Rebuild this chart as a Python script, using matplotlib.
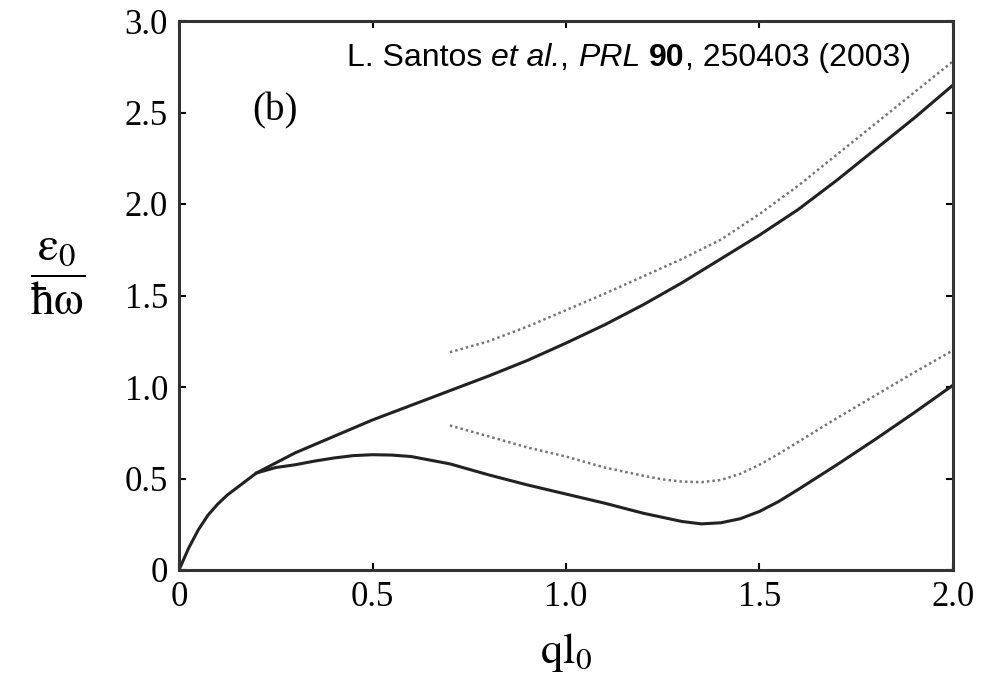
import matplotlib
matplotlib.use("Agg")
import matplotlib.pyplot as plt

plt.rcParams['mathtext.fontset'] = 'stix'

# 上支（实线）
q_upper = [0, 0.025, 0.05, 0.075, 0.1, 0.125, 0.15, 0.175, 0.2, 0.3, 0.4, 0.5, 0.6, 0.7, 0.8, 0.9,
           1.0, 1.1, 1.2, 1.3, 1.4, 1.5, 1.6, 1.7, 1.8, 1.9, 2.0]
e_upper = [0, 0.12, 0.22, 0.30, 0.36, 0.41, 0.45, 0.49, 0.53, 0.64, 0.73, 0.82, 0.90, 0.98, 1.06, 1.145,
           1.24, 1.34, 1.45, 1.57, 1.70, 1.83, 1.97, 2.13, 2.30, 2.47, 2.65]

# 下支（实线）
q_lower = [0.2, 0.25, 0.3, 0.35, 0.4, 0.45, 0.5, 0.55, 0.6, 0.7, 0.75, 0.8, 0.9,
           1.0, 1.1, 1.2, 1.3, 1.35, 1.4, 1.45, 1.5, 1.55, 1.6, 1.7, 1.8, 1.9, 2.0]
e_lower = [0.53, 0.56, 0.575, 0.595, 0.612, 0.625, 0.63, 0.628, 0.62, 0.58, 0.55, 0.52, 0.465,
           0.415, 0.365, 0.31, 0.265, 0.252, 0.258, 0.28, 0.32, 0.375, 0.44, 0.575, 0.715, 0.86, 1.01]

# 虚线（近似）
q_dot_up = [0.7, 0.8, 0.9, 1.0, 1.1, 1.2, 1.3, 1.4, 1.5, 1.6, 1.7, 1.8, 1.9, 2.0]
e_dot_up = [1.19, 1.25, 1.33, 1.42, 1.51, 1.605, 1.70, 1.805, 1.945, 2.10, 2.27, 2.44, 2.61, 2.78]
q_dot_low = [0.7, 0.8, 0.9, 1.0, 1.1, 1.2, 1.25, 1.3, 1.35, 1.4, 1.45, 1.5, 1.55, 1.6, 1.7, 1.8, 1.9, 2.0]
e_dot_low = [0.79, 0.73, 0.67, 0.62, 0.56, 0.515, 0.495, 0.483, 0.48, 0.492, 0.525, 0.575, 0.635, 0.70,
             0.83, 0.955, 1.08, 1.20]

xticks = [0, 0.5, 1.0, 1.5, 2.0]
xticklabels = ['0', '0.5', '1.0', '1.5', '2.0']
yticks = [0, 0.5, 1.0, 1.5, 2.0, 2.5, 3.0]
yticklabels = ['0', '0.5', '1.0', '1.5', '2.0', '2.5', '3.0']

fig = plt.figure(figsize=(10.02, 6.79), dpi=100)
ax = fig.add_axes([179 / 1002, 109 / 679, 774 / 1002, 549 / 679])

ax.plot(q_upper, e_upper, color='#222222', lw=2.2)
ax.plot(q_lower, e_lower, color='#222222', lw=2.2)
ax.plot(q_dot_up, e_dot_up, color='#777777', lw=1.8, linestyle=(0, (1, 1.2)))
ax.plot(q_dot_low, e_dot_low, color='#777777', lw=1.8, linestyle=(0, (1, 1.2)))

ax.set_xlim(0, 2.0)
ax.set_ylim(0, 3.0)
ax.set_xticks(xticks)
ax.set_xticklabels(xticklabels)
ax.set_yticks(yticks)
ax.set_yticklabels(yticklabels)
ax.tick_params(direction='in', length=5, width=1.5, top=True, right=True,
               labelsize=25, pad=8)
for lab in ax.get_xticklabels() + ax.get_yticklabels():
    lab.set_family('Liberation Serif')
for s in ax.spines.values():
    s.set_linewidth(2.2)
    s.set_color('#333333')

ax.text(0.248, 2.51, '(b)', fontsize=28, family='Liberation Serif', ha='center', va='center')

# 引用文字，分段拼接（斜体、粗体）
pieces = [('L. Santos ', 'normal', 'normal'), ('et al.', 'italic', 'normal'),
          (', ', 'normal', 'normal'), ('PRL', 'italic', 'normal'), (' ', 'normal', 'normal'),
          ('90', 'normal', 'bold'), (', 250403 (2003)', 'normal', 'normal')]
prev = fig.text(347 / 1002, 1 - 73 / 679, pieces[0][0], fontsize=23,
                family='Liberation Sans', ha='left', va='bottom')
for txt, st, wt in pieces[1:]:
    prev = ax.annotate(txt, xy=(1, 0), xycoords=prev, ha='left', va='bottom',
                       fontsize=23, family='Liberation Sans', style=st, weight=wt)

fig.text(566 / 1002, 1 - 652 / 679, r'$\mathrm{ql}_0$', fontsize=32, ha='center', va='center')
fig.text(58 / 1002, 1 - 277 / 679, r'$\dfrac{\mathrm{\varepsilon}_0}{\mathrm{\hbar\omega}}$',
         fontsize=34, ha='center', va='center')

fig.savefig('out.png', dpi=100)
